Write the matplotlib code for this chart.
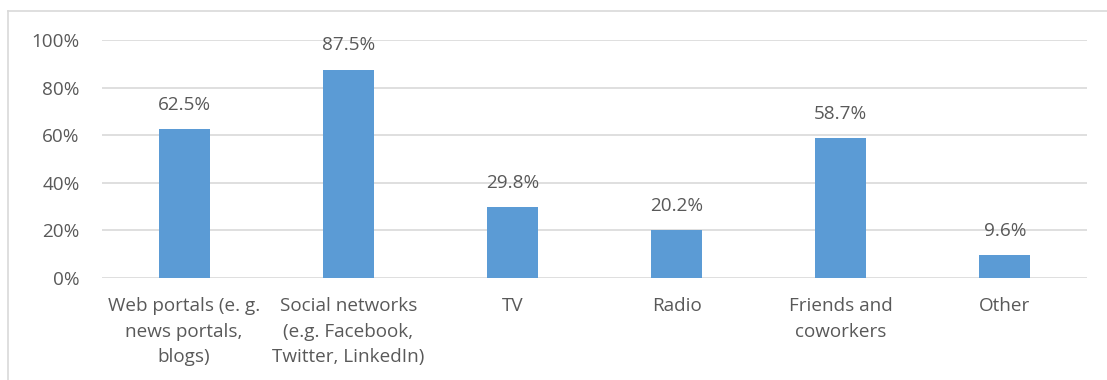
import matplotlib
matplotlib.use("Agg")
import matplotlib.pyplot as plt
from matplotlib.lines import Line2D

categories = ["Web portals (e. g.\nnews portals,\nblogs)",
              "Social networks\n(e.g. Facebook,\nTwitter, LinkedIn)",
              "TV", "Radio", "Friends and\ncoworkers", "Other"]
values = [62.5, 87.5, 29.8, 20.2, 58.7, 9.6]
yticks = [0, 20, 40, 60, 80, 100]
ytick_labels = ["0%", "20%", "40%", "60%", "80%", "100%"]

W, H = 1107, 380
fig = plt.figure(figsize=(W/100, H/100), dpi=100)
plt.rcParams['font.family'] = ['Open Sans', 'DejaVu Sans']
txt = "#595959"
fs = 13.6

x0, x1 = 102, 1087
y0, y1 = 278, 40
ax = fig.add_axes([x0/W, 1 - y0/H, (x1-x0)/W, (y0-y1)/H])
xs = list(range(len(categories)))
ax.bar(xs, values, width=0.31, color="#5B9BD5", zorder=3)
ax.set_xlim(-0.5, len(categories)-0.5)
ax.set_ylim(0, 100)
ax.set_yticks(yticks)
ax.set_yticklabels(ytick_labels, fontsize=fs, color=txt)
ax.set_xticks(xs)
ax.set_xticklabels(categories, fontsize=fs, color=txt, linespacing=1.52, va="top")
ax.tick_params(axis="both", length=0)
ax.tick_params(axis="y", pad=16)
ax.tick_params(axis="x", pad=14)
for s in ax.spines.values():
    s.set_visible(False)
ax.grid(axis="y", color="#d9d9d9", linewidth=1.2, zorder=0)
for x, v in zip(xs, values):
    ax.annotate(f"{v:.1f}%", (x, v), xytext=(0, 11), textcoords="offset points",
                ha="center", va="bottom", fontsize=fs, color=txt)

fig.add_artist(Line2D([8/W, 8/W], [0, 1 - 11/H], transform=fig.transFigure, color="#d9d9d9", lw=1.2))
fig.add_artist(Line2D([8/W, 1], [1 - 11/H, 1 - 11/H], transform=fig.transFigure, color="#d9d9d9", lw=1.2))

fig.savefig("out.png", dpi=100)
